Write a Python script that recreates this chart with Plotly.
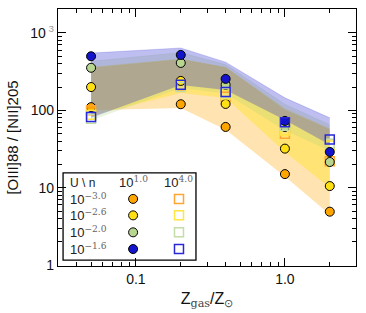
import plotly.graph_objects as go

# ---------------- data ----------------
Z = [0.05, 0.2, 0.4, 1.0, 2.0]

u_labels = ["−3.0", "−2.6", "−2.0", "−1.6"]
n_labels = ["1.0", "4.0"]

# n = 10^1.0 (filled circles)
circ_u30 = [110, 120, 61, 15, 4.9]
circ_u26 = [200, 240, 121, 32, 10.5]
circ_u20 = [355, 410, 214, 61, 21.5]
circ_u16 = [500, 520, 255, 73, 29]

# n = 10^4.0 (open squares)
sq_u30 = [100, 205, 150, 50, 22]
sq_u26 = [88, 212, 160, 55, 35]
sq_u20 = [78, 200, 168, 63, 37]
sq_u16 = [82, 214, 173, 70, 42]

# shaded ranges
band_lo_u30 = [100, 107, 56, 14, 4.5]
band_hi_u30 = [350, 450, 355, 100, 56]
band_lo_u26 = [85, 167, 144, 29, 10]
band_hi_u26 = [360, 460, 360, 105, 58]
band_lo_u20 = [74, 195, 165, 55, 30]
band_hi_u20 = [430, 560, 390, 120, 65]
band_lo_u16 = [80, 213, 183, 75, 36]
band_hi_u16 = [550, 640, 420, 145, 80]

y_tickvals = [1, 10, 100, 1000]
y_ticktext = ["1", "10", "100", "10<sup><span style='color:#999'> 3</span></sup>"]
x_tickvals = [0.1, 1.0]
x_ticktext = ["0.1", "1.0"]

# ---------------- styles ----------------
circ_colors = ["#FFA500", "#FFE014", "#B8D690", "#1414CC"]
sq_colors = ["#FFA530", "#FFE640", "#C4DCA8", "#2828D8"]
band_colors = ["rgba(255,165,0,0.30)", "rgba(255,225,0,0.35)",
               "rgba(170,210,120,0.25)", "rgba(40,40,210,0.30)"]

circs = [circ_u30, circ_u26, circ_u20, circ_u16]
sqs = [sq_u30, sq_u26, sq_u20, sq_u16]
bands = [(band_lo_u30, band_hi_u30), (band_lo_u26, band_hi_u26),
         (band_lo_u20, band_hi_u20), (band_lo_u16, band_hi_u16)]

fig = go.Figure()

for (lo, hi), col in zip(bands, band_colors):
    fig.add_trace(go.Scatter(x=Z, y=lo, mode="lines", line=dict(width=0),
                             showlegend=False, hoverinfo="skip"))
    fig.add_trace(go.Scatter(x=Z, y=hi, mode="lines", line=dict(width=0.6, color=col),
                             fill="tonexty", fillcolor=col, showlegend=False,
                             hoverinfo="skip"))

for c, s, cc, sc in zip(circs, sqs, circ_colors, sq_colors):
    fig.add_trace(go.Scatter(x=Z, y=c, mode="markers", showlegend=False,
                             marker=dict(symbol="circle", size=9, color=cc,
                                         line=dict(color="black", width=1))))
    fig.add_trace(go.Scatter(x=Z, y=s, mode="markers", showlegend=False,
                             marker=dict(symbol="square-open", size=9, color=sc,
                                         line=dict(color=sc, width=1.5))))

# ---------------- legend (custom grid) ----------------
lx0, lx1, ly0, ly1 = 0.017, 0.463, 0.023, 0.362
fig.add_shape(type="rect", xref="paper", yref="paper", x0=lx0, x1=lx1, y0=ly0, y1=ly1,
              line=dict(color="black", width=1.3), fillcolor="white", layer="below")

row_y = [0.261, 0.197, 0.131, 0.066]
col_x = [0.252, 0.406]
for i in range(4):
    fig.add_trace(go.Scatter(x=[col_x[0]], y=[row_y[i]], xaxis="x2", yaxis="y2",
                             mode="markers", showlegend=False,
                             marker=dict(symbol="circle", size=9, color=circ_colors[i],
                                         line=dict(color="black", width=1))))
    fig.add_trace(go.Scatter(x=[col_x[1]], y=[row_y[i]], xaxis="x2", yaxis="y2",
                             mode="markers", showlegend=False,
                             marker=dict(symbol="square-open", size=9, color=sq_colors[i],
                                         line=dict(color=sq_colors[i], width=1.5))))
    fig.add_annotation(xref="paper", yref="paper", x=0.035, y=row_y[i],
                       xanchor="left", yanchor="middle", showarrow=False,
                       text="10<sup><span style='font-family:DejaVu Serif;color:#666'>"
                            + u_labels[i] + "</span></sup>",
                       font=dict(size=13, color="#222", family="Liberation Sans"))

fig.add_annotation(xref="paper", yref="paper", x=0.033, y=0.324, xanchor="left",
                   yanchor="middle", showarrow=False, text="U \\ n",
                   font=dict(size=12, color="#222", family="Liberation Sans"))
for j in range(2):
    fig.add_annotation(xref="paper", yref="paper", x=col_x[j], y=0.326, xanchor="center",
                       yanchor="middle", showarrow=False,
                       text="10<sup><span style='font-family:DejaVu Serif;color:#666'>"
                            + n_labels[j] + "</span></sup>",
                       font=dict(size=13, color="#222", family="Liberation Sans"))

axis_common = dict(showline=True, linecolor="black", linewidth=1.3, mirror="allticks",
                   ticks="inside", ticklen=8, tickwidth=1, tickcolor="black",
                   showgrid=False, zeroline=False,
                   tickfont=dict(size=14, color="#111", family="Liberation Sans"))

fig.update_layout(
    width=366, height=313,
    margin=dict(l=58, r=10, t=9, b=47),
    plot_bgcolor="white", paper_bgcolor="white",
    xaxis=dict(type="log", range=[-1.523, 0.477], tickmode="array",
               tickvals=x_tickvals, ticktext=x_ticktext,
               minor=dict(tickmode="array",
                          tickvals=[0.04, 0.05, 0.06, 0.07, 0.08, 0.09,
                                    0.2, 0.3, 0.4, 0.5, 0.6, 0.7, 0.8, 0.9, 2, 3],
                          ticks="inside", ticklen=4, tickcolor="black", showgrid=False),
               title=dict(text="Z<sub><span style='font-family:DejaVu Serif;color:#444'>gas</span></sub>/Z<sub><span style='color:#444'>⊙</span></sub>",
                          font=dict(size=16, color="#111", family="Liberation Sans"),
                          standoff=6),
               **axis_common),
    yaxis=dict(type="log", range=[-0.012, 3.31], tickmode="array",
               tickvals=y_tickvals, ticktext=y_ticktext,
               minor=dict(tickmode="array",
                          tickvals=[2, 3, 4, 5, 6, 7, 8, 9, 20, 30, 40, 50, 60, 70, 80, 90,
                                    200, 300, 400, 500, 600, 700, 800, 900, 2000],
                          ticks="inside", ticklen=4, tickcolor="black", showgrid=False),
               title=dict(text="[OIII]88 / [NII]205",
                          font=dict(size=15, color="#111", family="Liberation Sans"),
                          standoff=8),
               **axis_common),
    xaxis2=dict(overlaying="x", range=[0, 1], visible=False),
    yaxis2=dict(overlaying="y", range=[0, 1], visible=False),
    showlegend=False,
)

fig.write_html("out.html", config={"displayModeBar": False},
               post_script="document.body.style.margin='0';")
